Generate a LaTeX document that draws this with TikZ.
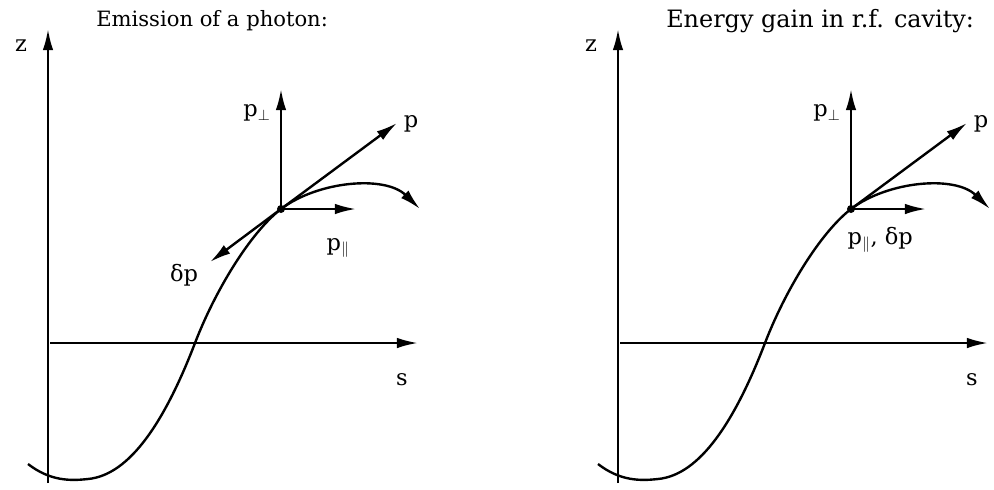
\documentclass[tikz,border=0pt]{standalone}
\usepackage{amsmath, amssymb}
\usepackage{fontspec}
\setmainfont{DejaVu Serif}
\usetikzlibrary{arrows.meta}

\tikzset{
    vec/.style={line width=1.7pt, -{Latex[length=15pt, width=7.5pt]}},
    lbl/.style={font=\fontsize{16}{19}\selectfont, inner sep=1pt},
    titel/.style={anchor=west, inner sep=0pt}
}

\begin{document}
\begin{tikzpicture}[x=0.025cm, y=-0.025cm]

    \useasboundingbox (0,0) rectangle (994,489);

    \foreach \sh/\nm/\tam/\titulo in {
        0/a/15/{Emission of a photon:},
        570/b/17/{Energy gain in r.f. cavity:}%
    } {
        \begin{scope}[shift={(\sh,3)}]
            % axes
            \coordinate (zbot\nm) at (48,480);
            \coordinate (ztop\nm) at (48,26);
            \coordinate (sleft\nm) at (50,340);
            \coordinate (sright\nm) at (418,340);
            \draw[vec] (zbot\nm) -- (ztop\nm);
            \draw[vec] (sleft\nm) -- (sright\nm);
            \node[lbl] (z\nm) at (21,43) {z};
            \node[lbl] (s\nm) at (402,377) {s};
            \node[titel, font=\fontsize{\tam}{20}\selectfont] (titulo\nm) at (96,18) {\titulo};

            % trajectory
            \coordinate (o\nm) at (281,206);
            \draw[line width=1.7pt] (28,461) .. controls (50,478) and (70,478) .. (88,476)
                .. controls (130,472) and (165,418) .. (195,340)
                .. controls (215,288) and (250,230) .. (o\nm);
            \draw[vec] (o\nm) .. controls (318,178) and (385,172) .. (420,206);
            \fill (o\nm) circle (4);

            % momenta
            \coordinate (pend\nm) at (397,120);
            \coordinate (pperp\nm) at (281,86);
            \coordinate (ppar\nm) at (356,206);
            \draw[vec] (o\nm) -- (pend\nm);
            \draw[vec] (o\nm) -- (pperp\nm);
            \draw[vec] (o\nm) -- (ppar\nm);
            \node[lbl] (p\nm) at (411,121) {p};
            \node[lbl] (pp\nm) at (257,110) {p$_{\perp}$};
        \end{scope}
    }

    % photon emission
    \coordinate (dpend) at (210,262);
    \draw[vec] (oa) -- (dpend);
    \node[lbl] (dp) at (184,275) {δp};
    \node[lbl] (pla) at (338,248) {p$_{\parallel}$};

    % r.f. cavity
    \node[lbl, anchor=west] (plb) at (846,240) {p$_{\parallel}$, δp};

\end{tikzpicture}
\end{document}
